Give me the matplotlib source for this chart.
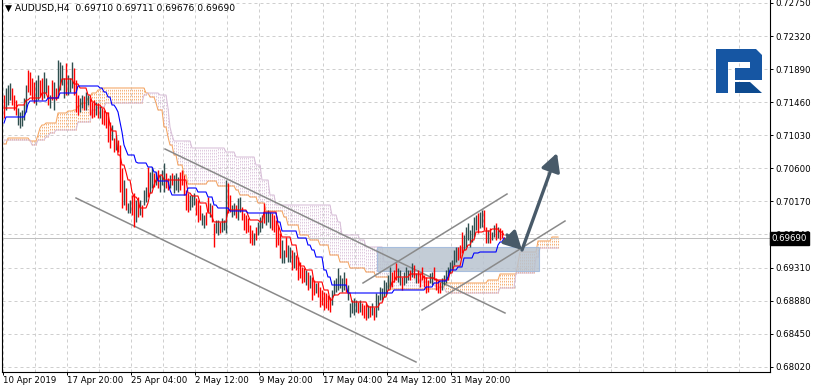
import numpy as np
import matplotlib.pyplot as plt
from matplotlib.patches import Rectangle, Polygon

# AUDUSD H4 bars (high / low), direction u = up (dark), d = down (red)
highs = [0.71553, 0.71644, 0.71683, 0.71709, 0.71644, 0.71553, 0.71488, 0.71384, 0.71332, 0.71358,
         0.71514, 0.71683, 0.71878, 0.71852, 0.71774, 0.71722, 0.71748, 0.71813, 0.71748, 0.71774,
         0.71852, 0.71774, 0.71683, 0.71553, 0.71748, 0.71722, 0.71644, 0.72008, 0.71982, 0.71943,
         0.71774, 0.71969, 0.71813, 0.71774, 0.71982, 0.71904, 0.71748, 0.71553, 0.71514, 0.71553,
         0.71540, 0.71592, 0.71553, 0.71514, 0.71462, 0.71488, 0.71462, 0.71449, 0.71410, 0.71384,
         0.71358, 0.71332, 0.71332, 0.71202, 0.71163, 0.70994, 0.71033, 0.70968, 0.70903, 0.70604,
         0.70448, 0.70344, 0.70149, 0.70188, 0.70253, 0.70279, 0.70188, 0.70227, 0.70188, 0.70123,
         0.70318, 0.70357, 0.70617, 0.70552, 0.70617, 0.70539, 0.70552, 0.70578, 0.70513, 0.70578,
         0.70669, 0.70539, 0.70474, 0.70513, 0.70539, 0.70513, 0.70539, 0.70487, 0.70552, 0.70578,
         0.70513, 0.70318, 0.70279, 0.70253, 0.70253, 0.70279, 0.70214, 0.70188, 0.70123, 0.70019,
         0.69993, 0.70032, 0.70227, 0.70149, 0.70123, 0.69889, 0.69928, 0.69928, 0.69902, 0.69954,
         0.69928, 0.70448, 0.70409, 0.70253, 0.70123, 0.70149, 0.70123, 0.70214, 0.70227, 0.70097,
         0.70019, 0.69993, 0.69954, 0.69863, 0.69798, 0.69759, 0.69837, 0.69902, 0.69967, 0.69993,
         0.70149, 0.70032, 0.70058, 0.70032, 0.70019, 0.69993, 0.69928, 0.69863, 0.69759, 0.69668,
         0.69538, 0.69707, 0.69603, 0.69577, 0.69538, 0.69512, 0.69473, 0.69447, 0.69382, 0.69317,
         0.69304, 0.69278, 0.69252, 0.69213, 0.69187, 0.69148, 0.69109, 0.69122, 0.69057, 0.69018,
         0.68992, 0.68979, 0.68953, 0.68927, 0.69018, 0.69148, 0.69174, 0.69304, 0.69213, 0.69174,
         0.69252, 0.69174, 0.69083, 0.68849, 0.68888, 0.68914, 0.68888, 0.68862, 0.68888, 0.68849,
         0.68823, 0.68849, 0.68823, 0.68810, 0.68849, 0.68797, 0.68979, 0.68953, 0.69057, 0.69044,
         0.69148, 0.69122, 0.69213, 0.69317, 0.69252, 0.69278, 0.69369, 0.69304, 0.69278, 0.69187,
         0.69252, 0.69317, 0.69278, 0.69278, 0.69369, 0.69343, 0.69239, 0.69278, 0.69239, 0.69317,
         0.69213, 0.69187, 0.69148, 0.69239, 0.69252, 0.69317, 0.69174, 0.69148, 0.69122, 0.69174,
         0.69213, 0.69278, 0.69317, 0.69382, 0.69408, 0.69538, 0.69577, 0.69577, 0.69603, 0.69772,
         0.69733, 0.69837, 0.69889, 0.69798, 0.69863, 0.69967, 0.69993, 0.70019, 0.70032, 0.70058,
         0.70058, 0.69837, 0.69798, 0.69824, 0.69772, 0.69863, 0.69889, 0.69837, 0.69824, 0.69798,
         0.69711]
lows = [0.71254, 0.71358, 0.71423, 0.71488, 0.71423, 0.71358, 0.71293, 0.71163, 0.71124, 0.71150,
        0.71228, 0.71332, 0.71592, 0.71553, 0.71488, 0.71449, 0.71423, 0.71488, 0.71540, 0.71488,
        0.71514, 0.71579, 0.71423, 0.71384, 0.71488, 0.71358, 0.71488, 0.71514, 0.71618, 0.71683,
        0.71514, 0.71553, 0.71553, 0.71592, 0.71644, 0.71553, 0.71332, 0.71293, 0.71332, 0.71384,
        0.71358, 0.71358, 0.71423, 0.71293, 0.71254, 0.71267, 0.71293, 0.71254, 0.71254, 0.71176,
        0.71163, 0.71124, 0.70942, 0.70864, 0.70968, 0.70812, 0.70838, 0.70812, 0.70292, 0.70084,
        0.70123, 0.70058, 0.70019, 0.70019, 0.69993, 0.69837, 0.69902, 0.69967, 0.69993, 0.69967,
        0.70123, 0.70162, 0.70227, 0.70279, 0.70344, 0.70357, 0.70383, 0.70344, 0.70292, 0.70383,
        0.70292, 0.70344, 0.70318, 0.70344, 0.70383, 0.70279, 0.70318, 0.70292, 0.70318, 0.70383,
        0.70253, 0.70058, 0.70032, 0.70058, 0.70097, 0.70123, 0.69993, 0.69902, 0.69928, 0.69863,
        0.69824, 0.69863, 0.70032, 0.69967, 0.69902, 0.69577, 0.69759, 0.69733, 0.69759, 0.69772,
        0.69798, 0.69759, 0.70019, 0.70032, 0.69967, 0.69993, 0.69954, 0.69928, 0.70032, 0.69928,
        0.69798, 0.69759, 0.69772, 0.69629, 0.69603, 0.69603, 0.69668, 0.69733, 0.69772, 0.69824,
        0.69889, 0.69863, 0.69902, 0.69824, 0.69798, 0.69772, 0.69577, 0.69603, 0.69434, 0.69369,
        0.69369, 0.69447, 0.69382, 0.69382, 0.69278, 0.69304, 0.69278, 0.69148, 0.69174, 0.69109,
        0.69122, 0.69083, 0.69018, 0.69044, 0.68888, 0.68953, 0.68979, 0.68927, 0.68797, 0.68823,
        0.68758, 0.68784, 0.68758, 0.68732, 0.68823, 0.68953, 0.68992, 0.69018, 0.69044, 0.68992,
        0.69018, 0.68992, 0.68888, 0.68667, 0.68719, 0.68693, 0.68732, 0.68719, 0.68732, 0.68693,
        0.68654, 0.68628, 0.68654, 0.68667, 0.68693, 0.68628, 0.68667, 0.68758, 0.68888, 0.68888,
        0.68927, 0.68953, 0.69018, 0.69057, 0.69057, 0.69122, 0.69148, 0.69122, 0.69083, 0.69018,
        0.69083, 0.69109, 0.69148, 0.69148, 0.69187, 0.69174, 0.69109, 0.69109, 0.69057, 0.69148,
        0.69057, 0.68979, 0.68992, 0.69109, 0.69083, 0.69148, 0.69018, 0.68979, 0.68979, 0.69018,
        0.69083, 0.69109, 0.69148, 0.69239, 0.69278, 0.69343, 0.69382, 0.69408, 0.69434, 0.69499,
        0.69538, 0.69577, 0.69668, 0.69577, 0.69642, 0.69707, 0.69798, 0.69759, 0.69824, 0.69837,
        0.69798, 0.69629, 0.69629, 0.69629, 0.69668, 0.69707, 0.69668, 0.69694, 0.69668, 0.69694,
        0.69676]
bar_dirs = "".join([
    "duuuddduuu", "uudddduudd", "uudududuuu", "uduuuddduu", "duudddudud",
    "ddddududdd", "uduuddudud", "uuduududuu", "udduduuudd", "ddduuudddu",
    "uddudduudu", "uudduuduud", "ddddduduuu", "duuudddddu", "uduududddd",
    "dududduddd", "dddduuuuuu", "uduuuuudud", "ddududuuuu", "uuuuddduud",
    "uuudududdd", "ddduuddddu", "uuuuuuuddd", "uuuuuuuduu", "dduduududd", "d"])
last_close = 0.69690

# Ichimoku lines as (bar where value starts, value)
tenkan_idx = [0, 7, 11, 13, 19, 22, 28, 29, 35, 38, 42, 44, 46, 49, 51, 53, 54, 57, 59, 61,
              62, 64, 65, 67, 68, 72, 73, 75, 76, 78, 80, 92, 94, 98, 102, 104, 105, 112, 122, 123,
              128, 130, 137, 138, 139, 144, 147, 148, 151, 155, 160, 163, 165, 168, 174, 182, 188, 190, 192, 194,
              196, 203, 210, 216, 223, 225, 229, 230, 232, 234, 236, 240, 244, 248, 250]
tenkan_val = [0.71384, 0.71423, 0.71488, 0.71514, 0.71579, 0.71514, 0.71657, 0.71761, 0.71696, 0.71644,
              0.71553, 0.71462, 0.71423, 0.71384, 0.71319, 0.71163, 0.71085, 0.70773, 0.70643, 0.70552,
              0.70448, 0.70292, 0.70227, 0.70188, 0.70084, 0.70149, 0.70279, 0.70383, 0.70448, 0.70513,
              0.70448, 0.70279, 0.70240, 0.70149, 0.70019, 0.69967, 0.69902, 0.70058, 0.69993, 0.69928,
              0.69902, 0.70032, 0.69863, 0.69798, 0.69707, 0.69603, 0.69434, 0.69330, 0.69278, 0.69122,
              0.69018, 0.68888, 0.68953, 0.68979, 0.68862, 0.68797, 0.68849, 0.68927, 0.69018, 0.69122,
              0.69187, 0.69226, 0.69174, 0.69148, 0.69239, 0.69330, 0.69447, 0.69538, 0.69603, 0.69668,
              0.69772, 0.69785, 0.69811, 0.69772, 0.69733]
kijun_idx = [0, 1, 11, 12, 13, 22, 28, 37, 48, 50, 52, 54, 56, 57, 58, 59, 60, 61, 62, 66,
             67, 72, 75, 77, 83, 84, 92, 97, 102, 105, 107, 113, 122, 137, 139, 147, 152, 154, 156, 160,
             162, 164, 172, 195, 211, 215, 218, 222, 223, 227, 230, 235, 238, 247, 248, 250]
kijun_val = [0.71189, 0.71267, 0.71332, 0.71436, 0.71475, 0.71514, 0.71579, 0.71670, 0.71644, 0.71592,
             0.71527, 0.71423, 0.71384, 0.71332, 0.71202, 0.71072, 0.70903, 0.70838, 0.70773, 0.70682,
             0.70669, 0.70617, 0.70552, 0.70435, 0.70318, 0.70253, 0.70344, 0.70292, 0.70227, 0.70123,
             0.70084, 0.70045, 0.70019, 0.69902, 0.69785, 0.69694, 0.69603, 0.69538, 0.69447, 0.69278,
             0.69187, 0.69083, 0.68979, 0.69018, 0.69057, 0.69109, 0.69135, 0.69187, 0.69278, 0.69317,
             0.69434, 0.69499, 0.69512, 0.69603, 0.69642, 0.69694]
span_a_idx = [0, 2, 13, 17, 18, 19, 21, 27, 32, 35, 37, 39, 42, 44, 47, 49, 71, 73, 76, 77,
              80, 82, 83, 85, 87, 90, 92, 102, 107, 116, 118, 123, 127, 131, 140, 142, 148, 153, 158, 163,
              168, 173, 181, 186, 193, 218, 221, 242, 248, 257, 258, 267, 274]
span_a_val = [0.70916, 0.70994, 0.70955, 0.71033, 0.71124, 0.71163, 0.71189, 0.71319, 0.71345, 0.71358,
              0.71410, 0.71449, 0.71514, 0.71579, 0.71618, 0.71644, 0.71579, 0.71527, 0.71449, 0.71358,
              0.71137, 0.71007, 0.70903, 0.70773, 0.70643, 0.70513, 0.70396, 0.70435, 0.70370, 0.70318,
              0.70253, 0.70227, 0.70149, 0.70045, 0.69967, 0.69863, 0.69733, 0.69668, 0.69603, 0.69473,
              0.69382, 0.69304, 0.69252, 0.69187, 0.69031, 0.69057, 0.69109, 0.69148, 0.69226, 0.69369,
              0.69512, 0.69655, 0.69707]
span_b_idx = [0, 14, 17, 21, 23, 26, 37, 44, 47, 51, 70, 72, 78, 82, 83, 84, 85, 94, 111, 116,
              126, 129, 133, 136, 164, 167, 169, 178, 181, 190, 198, 204, 209, 216, 221, 223, 248, 256, 266, 268]
span_b_val = [0.70968, 0.70903, 0.70968, 0.71007, 0.71059, 0.71098, 0.71202, 0.71358, 0.71397, 0.71449,
              0.71553, 0.71579, 0.71553, 0.71384, 0.71137, 0.71033, 0.70955, 0.70864, 0.70812, 0.70747,
              0.70643, 0.70448, 0.70253, 0.70123, 0.69993, 0.69902, 0.69733, 0.69668, 0.69577, 0.69382,
              0.69304, 0.69213, 0.69122, 0.69057, 0.68992, 0.68979, 0.69044, 0.69239, 0.69447, 0.69564]
cloud_len = 278

price_ticks = [0.72750, 0.72320, 0.71890, 0.71460, 0.71030, 0.70600,
               0.70170, 0.69740, 0.69310, 0.68880, 0.68450, 0.68020]
time_pos = [-0.5, 31.5, 63.5, 95.5, 127.5, 159.5, 191.5, 223.5]
time_labels = ["10 Apr 2019", "17 Apr 20:00", "25 Apr 04:00", "2 May 12:00",
               "9 May 20:00", "17 May 04:00", "24 May 12:00", "31 May 20:00"]

# hand drawn objects: (bar, price) pairs
channel_lines = [((36, 0.70214), (206, 0.68082)), ((80.5, 0.70851), (250.5, 0.68719)),
                 ((179.5, 0.69109), (251.5, 0.70266)), ((209, 0.68758), (280.5, 0.69915))]
zone = (186.5, 267.5, 0.69265, 0.69577)
arrows = [((251.5, 0.69733), (259, 0.69538)), ((259, 0.69538), (276.5, 0.70799))]


def hold(idx, val, n):
    pos = np.searchsorted(idx, np.arange(n), side='right') - 1
    return np.asarray(val)[pos]


plt.rcParams['font.family'] = 'DejaVu Sans'
fig = plt.figure(figsize=(8.15, 3.92), dpi=100)
ax = fig.add_axes([2 / 815, 20 / 392, 768 / 815, 372 / 392])
ax.set_xlim(-1, 383)
ax.set_ylim(0.67952, 0.72788)

# grid
for p in price_ticks:
    ax.axhline(p, color='#cfcfcf', lw=0.72, dashes=(3, 3), zorder=0)
for k in range(24):
    ax.axvline(16 * k - 0.5, color='#cfcfcf', lw=0.72, dashes=(3, 3), zorder=0)

# kumo
n = len(highs)
span_a = hold(span_a_idx, span_a_val, cloud_len)
span_b = hold(span_b_idx, span_b_val, cloud_len)
xc = np.arange(cloud_len)
up = span_a >= span_b
ax.vlines(xc[up], span_b[up], span_a[up], colors='#f4a460', lw=0.6,
          linestyles=(0, (2.0, 1.6)), zorder=1)
ax.vlines(xc[~up], span_a[~up], span_b[~up], colors='#d8bfd8', lw=0.6,
          linestyles=(0, (2.0, 1.6)), zorder=1)
ax.plot(xc, span_a, color='#f4a460', lw=0.75, zorder=1.5)
ax.plot(xc, span_b, color='#d8bfd8', lw=0.75, zorder=1.5)

# zone rectangle
ax.add_patch(Rectangle((zone[0], zone[2]), zone[1] - zone[0], zone[3] - zone[2],
                       facecolor='#b9c3cf', edgecolor='#9db8dc', lw=0.8, alpha=0.85, zorder=2))

ax.axhline(last_close, color='#c0c0c0', lw=0.72, zorder=2.2)

for (x0, y0), (x1, y1) in channel_lines:
    ax.plot([x0, x1], [y0, y1], color='#8a8a8a', lw=1.1, zorder=2.5)

# bars
xs = np.arange(n)
cols = ['#ff0000' if c == 'd' else '#2f4f4f' for c in bar_dirs[:n]]
ax.vlines(xs, lows, highs, colors=cols, lw=1.0, zorder=3)

ax.plot(np.arange(n), hold(tenkan_idx, tenkan_val, n), color='#ff0000', lw=0.8, zorder=3.5)
ax.plot(np.arange(n), hold(kijun_idx, kijun_val, n), color='#0000ff', lw=0.8, zorder=3.5)

for start, end in arrows:
    ax.annotate('', xy=end, xytext=start,
                arrowprops=dict(arrowstyle='-|>,head_length=0.6,head_width=0.32',
                                lw=2.4, color='#485a69', shrinkA=0, shrinkB=0,
                                mutation_scale=18), zorder=4)

# axes
ax.spines['top'].set_visible(False)
for s in ['left', 'right', 'bottom']:
    ax.spines[s].set_color('black')
    ax.spines[s].set_linewidth(0.8)
ax.yaxis.tick_right()
ax.set_yticks(price_ticks)
ax.set_yticklabels(['%.5f' % p for p in price_ticks])
ax.set_xticks(time_pos)
ax.set_xticklabels(time_labels)
for lbl in ax.get_xticklabels():
    lbl.set_horizontalalignment('left')
ax.tick_params(axis='y', length=2.2, width=0.7, pad=1.5, labelsize=6.2)
ax.tick_params(axis='x', length=2.2, width=0.7, pad=1.0, labelsize=6.2)

ax.annotate('%.5f' % last_close, xy=(1.0, last_close), xycoords=('axes fraction', 'data'),
            xytext=(1.2, 0), textcoords='offset points', ha='left', va='center',
            fontsize=6.2, color='white', annotation_clip=False,
            bbox=dict(boxstyle='square,pad=0.2', fc='black', ec='black'))

fig.text(5 / 815, 1 - 8 / 392, "\u25bc AUDUSD,H4  0.69710 0.69711 0.69676 0.69690",
         fontsize=6.6, va='center', ha='left')

# logo
lax = fig.add_axes([714 / 815, 1 - 95 / 392, 50 / 815, 48 / 392])
lax.set_xlim(714, 764)
lax.set_ylim(95, 47)
lax.axis('off')
lax.add_patch(Polygon([(716, 49), (756, 49), (762, 55), (762, 80), (735, 80), (735, 68),
                       (750, 68), (750, 62), (728, 62), (728, 93), (716, 93)],
                      closed=True, fc='#1656a3', ec='none'))
lax.add_patch(Polygon([(735, 82), (750, 82), (762, 93), (735, 93)], closed=True,
                      fc='#0d4a8f', ec='none'))

fig.savefig('out.png', dpi=100)
